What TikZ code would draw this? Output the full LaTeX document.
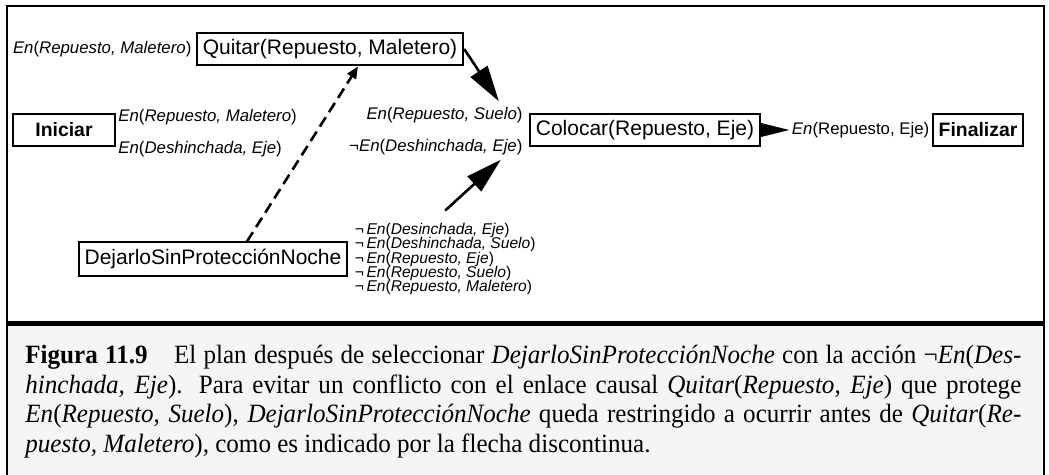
\documentclass[tikz,border=0pt]{standalone}
\usepackage{fontspec}
\setmainfont{Liberation Serif}
\newfontfamily\diagfont{Liberation Sans}
\newfontfamily\capfont[FakeStretch=0.95]{Liberation Serif}
\usetikzlibrary{arrows.meta, positioning}
\newcommand{\pEn}{\textit{En}}
\newcommand{\tightstack}{\lineskiplimit-5pt\relax\lineskip0pt\relax}

\begin{document}
\begin{tikzpicture}[x=0.5pt, y=-0.5pt,
    box/.style={rectangle, draw, line width=1pt, minimum height=16pt, inner xsep=3pt, font=\diagfont\fontsize{10.5}{12}\selectfont},
    endbox/.style={box, font=\diagfont\bfseries\fontsize{9.7}{11}\selectfont},
    cond/.style={inner sep=1pt, font=\diagfont\fontsize{8.4}{9}\selectfont},
    arrow/.style={-{Triangle[length=18pt, width=10pt]}, line width=1.3pt},
    dasharrow/.style={-{Triangle[length=6pt, width=5pt]}, line width=1.3pt, dash pattern=on 5.5pt off 3pt}
]
    \useasboundingbox (0,0) rectangle (1049,475);
    % frame and caption area
    \fill[black!4] (7,326) rectangle (1044,475);
    \draw[line width=1pt] (7,475) -- (7,6) -- (1044,6) -- (1044,475);
    \draw[line width=2.5pt] (7,324) -- (1044,324);

    % actions
    \node[endbox, minimum width=51pt] (iniciar) at (64,130) {Iniciar};
    \node[box] (quitar) at (330,49) {Quitar(Repuesto, Maletero)};
    \node[box] (colocar) at (645,130) {Colocar(Repuesto, Eje)};
    \node[endbox] (finalizar) at (978,130) {Finalizar};
    \node[box] (dejarlo) at (213,259) {DejarloSinProtecciónNoche};

    % preconditions and effects
    \node[cond, left=1pt of quitar] (prequitar) {\pEn(\textit{Repuesto, Maletero})};
    \node[cond, anchor=west] (inimal) at ([yshift=-2pt]iniciar.north east) {\pEn(\textit{Repuesto, Maletero})};
    \node[cond, anchor=west] (inideshin) at ([yshift=-1pt]iniciar.south east) {\pEn(\textit{Deshinchada, Eje})};
    \node[cond, anchor=east] (suelo) at ([xshift=-2pt, yshift=-1.5pt]colocar.north west) {\pEn(\textit{Repuesto, Suelo})};
    \node[cond, anchor=east] (nodeshin) at ([xshift=-2pt]colocar.south west) {¬\pEn(\textit{Deshinchada, Eje})};
    \node[cond, left=0pt of finalizar] (prefin) {\pEn(Repuesto, Eje)};
    \node[cond, anchor=west, align=left, font=\diagfont\fontsize{7.8}{7.2}\selectfont\tightstack] (efectos) at ([xshift=2pt]dejarlo.east)
        {¬\,\pEn(\textit{Desinchada, Eje})\\
         ¬\,\pEn(\textit{Deshinchada, Suelo})\\
         ¬\,\pEn(\textit{Repuesto, Eje})\\
         ¬\,\pEn(\textit{Repuesto, Suelo})\\
         ¬\,\pEn(\textit{Repuesto, Maletero})};

    % links
    \draw[arrow] (quitar.east) -- ([xshift=-13pt, yshift=2pt]suelo.north east);
    \draw[arrow] ([yshift=5pt]efectos.north) -- ([xshift=-12pt, yshift=-1pt]nodeshin.south east);
    \draw[arrow, -{Triangle[length=15pt, width=7pt]}] (colocar.east) -- (prefin.west);
    \draw[dasharrow] ([xshift=17pt]dejarlo.north) -- ([xshift=14pt]quitar.south);

    % caption
    \node[anchor=north west, inner sep=0pt, text width=498pt, align=justify, font=\capfont\fontsize{13.2}{14.8}\selectfont] (caption) at (25,345)
        {\textbf{Figura 11.9}\quad El plan después de seleccionar \textit{DejarloSinProtecciónNoche} con la acción ¬\textit{En}(\textit{Des-}\linebreak\textit{hinchada, Eje}). Para evitar un conflicto con el enlace causal \textit{Quitar}(\textit{Repuesto, Eje}) que protege\linebreak \textit{En}(\textit{Repuesto, Suelo}), \textit{DejarloSinProtecciónNoche} queda restringido a ocurrir antes de \textit{Quitar}(\textit{Re-}\linebreak\textit{puesto, Maletero}), como es indicado por la flecha discontinua.};
\end{tikzpicture}
\end{document}
